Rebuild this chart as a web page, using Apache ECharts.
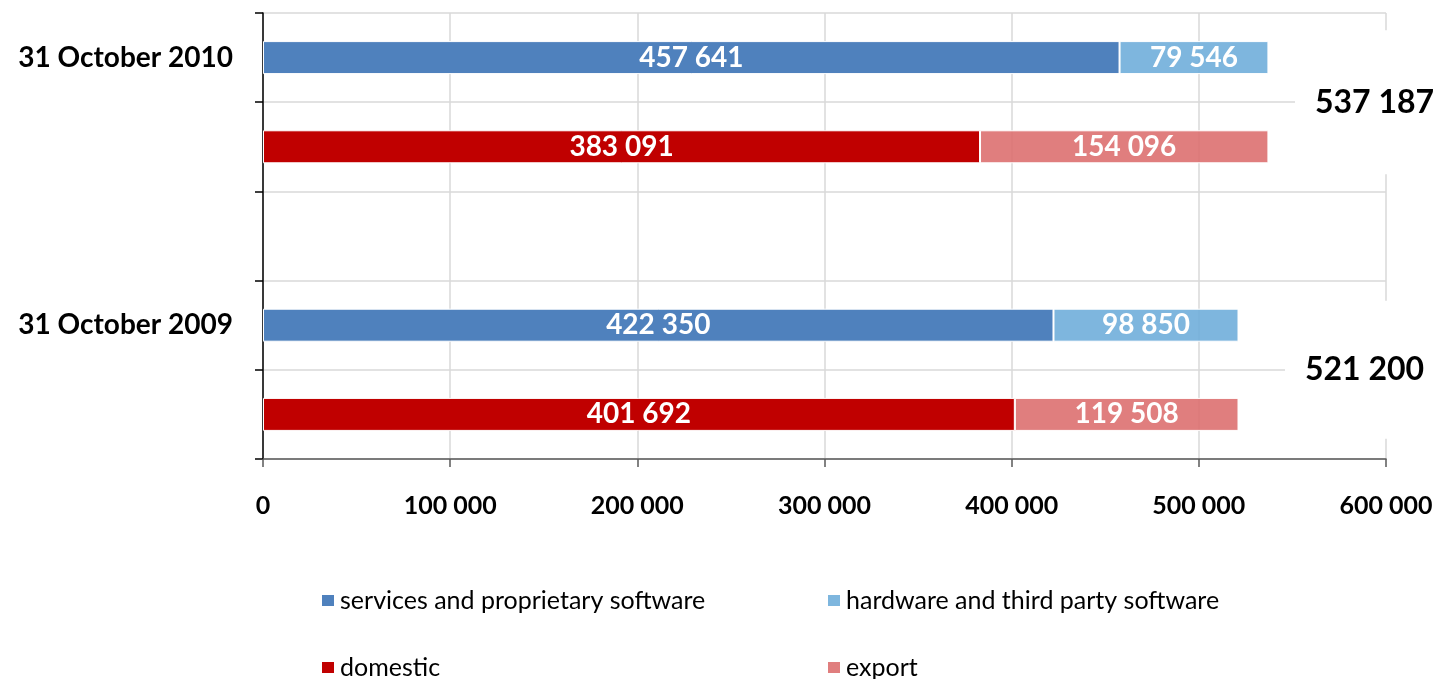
<!DOCTYPE html>
<html>
<head>
<meta charset="utf-8">
<script src="https://cdn.jsdelivr.net/npm/echarts@6/dist/echarts.min.js"></script>
<style>
  html, body { margin: 0; padding: 0; background: #fff; }
  #chart { width: 1438px; height: 679px; }
</style>
</head>
<body>
<div id="chart"></div>
<script>
// Rows of the chart, top to bottom: each date has one bar split by product
// and one bar split by market, with an empty row between the two dates.
const rowKeys = ['2010-product', '2010-market', 'gap', '2009-product', '2009-market'];
const rowLabels = ['31 October 2010', '', '', '31 October 2009', ''];

const seriesNames = [
  'services and proprietary software',
  'hardware and third party software',
  'domestic',
  'export'
];
const servicesValues = [457641, null, null, 422350, null];
const hardwareValues = [79546, null, null, 98850, null];
const domesticValues = [null, 383091, null, null, 401692];
const exportValues   = [null, 154096, null, null, 119508];

// Yearly totals, shown between the two bars of each date
const totalRows = [0, 3];
const totalValues = [537187, 521200];

const xTicks = [0, 100000, 200000, 300000, 400000, 500000, 600000];

const FONT = 'Lato';
const fmt = v => String(Math.round(v)).replace(/\B(?=(\d{3})+(?!\d))/g, ' ');

const colors = ['#4F81BD', 'rgba(112,174,218,0.9)', '#C00000', 'rgba(221,112,112,0.9)'];
const valueSets = [servicesValues, hardwareValues, domesticValues, exportValues];

const chart = echarts.init(document.getElementById('chart'), null, { renderer: 'canvas' });

const series = seriesNames.map((name, i) => ({
  name,
  type: 'bar',
  stack: 'total',
  barWidth: 33,
  data: valueSets[i],
  itemStyle: { color: colors[i], borderColor: '#fff', borderWidth: 1 },
  label: {
    show: true,
    position: 'inside',
    color: '#fff',
    fontFamily: FONT,
    fontWeight: 'bold',
    fontSize: 28,
    formatter: p => (p.value == null ? '' : fmt(p.value))
  },
  emphasis: { disabled: true }
}));

const legendSpots = [
  { left: 315, top: 583 },
  { left: 821, top: 583 },
  { left: 315, top: 650 },
  { left: 821, top: 650 }
];
const legends = seriesNames.map((name, i) => ({
  data: [name],
  left: legendSpots[i].left,
  top: legendSpots[i].top,
  icon: 'rect',
  itemWidth: 14,
  itemHeight: 13,
  itemGap: 0,
  selectedMode: false,
  textStyle: { fontFamily: FONT, fontSize: 25, color: '#000' }
}));

chart.setOption({
  animation: false,
  backgroundColor: '#fff',
  grid: { left: 263, right: 52, top: 13, bottom: 220, containLabel: false },
  legend: legends,
  xAxis: {
    type: 'value',
    min: xTicks[0],
    max: xTicks[xTicks.length - 1],
    interval: xTicks[1] - xTicks[0],
    axisLine: { show: true, lineStyle: { color: '#595959', width: 1.5 } },
    axisTick: { show: true, length: 8, lineStyle: { color: '#595959', width: 1.5 } },
    splitLine: { show: true, lineStyle: { color: '#D9D9D9', width: 1.5 } },
    axisLabel: {
      margin: 34,
      fontFamily: FONT,
      fontWeight: 'bold',
      fontSize: 25,
      color: '#000',
      formatter: v => fmt(v)
    }
  },
  yAxis: {
    type: 'category',
    inverse: true,
    data: rowKeys,
    axisLine: { show: true, lineStyle: { color: '#000', width: 1.5 } },
    axisTick: { show: true, length: 8, lineStyle: { color: '#000', width: 1.5 } },
    splitLine: { show: true, lineStyle: { color: '#D9D9D9', width: 1.5 } },
    axisLabel: {
      margin: 30,
      fontFamily: FONT,
      fontWeight: 'bold',
      fontSize: 28,
      color: '#000',
      interval: 0,
      formatter: (v, i) => rowLabels[i]
    }
  },
  series
});

// Total labels sit on the boundary between a date's two bars,
// each in a white box that hides the grid lines behind it.
const totalBoxLeft = [91, 101];        // box left edge, measured back from the plot's right edge
const totalPadding = [[56, 60, 56, 20], [53, 70, 53, 20]];
const gridRight = chart.convertToPixel({ xAxisIndex: 0 }, xTicks[xTicks.length - 1]);
const graphics = totalValues.map((t, i) => {
  const r = totalRows[i];
  const y1 = chart.convertToPixel({ yAxisIndex: 0 }, rowKeys[r]);
  const y2 = chart.convertToPixel({ yAxisIndex: 0 }, rowKeys[r + 1]);
  return {
    type: 'text',
    x: gridRight - totalBoxLeft[i],
    y: (y1 + y2) / 2,
    z: 100,
    style: {
      text: fmt(t),
      fontFamily: FONT,
      fontWeight: 'bold',
      fontSize: 32,
      fill: '#000',
      align: 'left',
      verticalAlign: 'middle',
      backgroundColor: '#fff',
      padding: totalPadding[i]
    }
  };
});
chart.setOption({ graphic: graphics });
</script>
</body>
</html>
